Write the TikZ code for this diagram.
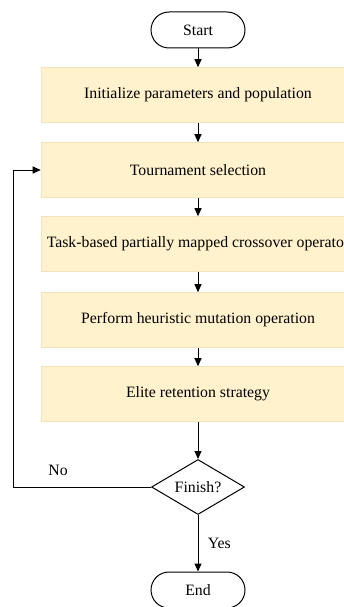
\documentclass[tikz,border=0pt]{standalone}
\usepackage{fontspec}
\setmainfont{Liberation Serif}
\usetikzlibrary{shapes.geometric,arrows.meta}
\definecolor{boxfill}{HTML}{FFF2CC}
\definecolor{boxline}{HTML}{F3E3BC}
\begin{document}
\begin{tikzpicture}[x=1pt,y=-1pt,
  every node/.style={font=\fontsize{15.8}{18}\selectfont},
  term/.style={draw,line width=1pt,rounded corners=18pt,minimum width=94pt,minimum height=36pt,inner sep=0pt},
  proc/.style={draw=boxline,fill=boxfill,line width=0.6pt,minimum width=314pt,minimum height=55pt,inner sep=0pt},
  dec/.style={draw,line width=1pt,diamond,aspect=1.7,minimum width=93pt,minimum height=55pt,inner sep=0pt},
  arr/.style={line width=1pt,-{Triangle[length=8pt,width=7pt]}},
  ln/.style={line width=1pt}]
\useasboundingbox (0,0) rectangle (343,607);
\node[term] (start) at (198,30) {Start};
\node[proc] (b1) at (198,95) {Initialize parameters and population};
\node[proc] (b2) at (198,170) {Tournament selection};
\node[proc] (b3) at (198,244) {Task-based partially mapped crossover operator};
\node[proc] (b4) at (198,320) {Perform heuristic mutation operation};
\node[proc] (b5) at (198,394) {Elite retention strategy};
\node[dec] (fin) at (198,487) {Finish?};
\node[term] (end) at (198,590) {End};
\coordinate (c1) at (13,487);
\coordinate (c2) at (13,170);
\draw[arr] (start) -- (b1);
\draw[arr] (b1) -- (b2);
\draw[arr] (b2) -- (b3);
\draw[arr] (b3) -- (b4);
\draw[arr] (b4) -- (b5);
\draw[arr] (b5) -- (fin);
\draw[arr] (fin) -- node[right=6pt] {Yes} (end);
\draw[ln] (fin.west) -- (c1);
\draw[arr] (c1) -- (c2) -- (b2.west);
\node (no) at (58,470) {No};
\end{tikzpicture}
\end{document}
